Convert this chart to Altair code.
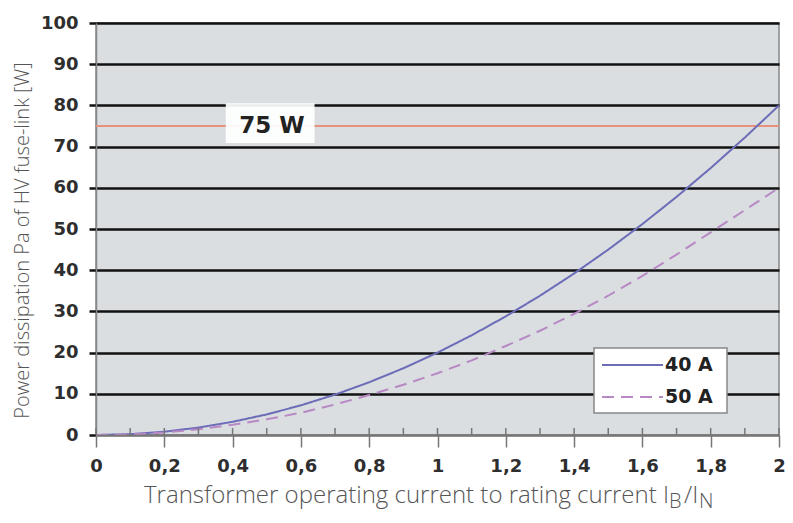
import altair as alt
import pandas as pd

# ---- data ----
x_vals = [0.0, 0.1, 0.2, 0.3, 0.4, 0.5, 0.6, 0.7, 0.8, 0.9, 1.0,
          1.1, 1.2, 1.3, 1.4, 1.5, 1.6, 1.7, 1.8, 1.9, 2.0]
p_40a = [0, 0.2, 0.8, 1.8, 3.2, 5.0, 7.2, 9.8, 12.8, 16.2, 20.0,
         24.2, 28.8, 33.8, 39.2, 45.0, 51.2, 57.8, 64.8, 72.2, 80.0]
p_50a = [0, 0.15, 0.6, 1.4, 2.5, 3.8, 5.4, 7.4, 9.7, 12.2, 15.0,
         18.1, 21.6, 25.3, 29.4, 33.8, 38.6, 43.8, 49.2, 54.6, 60.0]
series_names = ["40 A", "50 A"]
series_colors = ["#6c6cb8", "#b888c4"]
limit_value = 75
limit_label = "75 W"
y_ticks = [0, 10, 20, 30, 40, 50, 60, 70, 80, 90, 100]

PLOT_W, PLOT_H = 683, 412
PAD_L, PAD_T, PAD_R, PAD_B = 88, 15, 6, 78

rows = []
for x, a, b in zip(x_vals, p_40a, p_50a):
    rows.append({"x": x, "p": a, "s": series_names[0]})
    rows.append({"x": x, "p": b, "s": series_names[1]})
df = pd.DataFrame(rows)
df_ticks = pd.DataFrame({"x": x_vals})

xscale = alt.Scale(domain=[0, 2], nice=False, zero=False)
yscale = alt.Scale(domain=[0, 100], nice=False)

label_font = "DejaVu Sans"
title_font = "Open Sans"

xaxis = alt.Axis(
    values=x_vals,
    labelExpr="round(datum.value*10) % 2 == 0 ? replace(format(datum.value, '~g'), '.', ',') : ''",
    labelFont=label_font, labelFontSize=18, labelFontWeight="bold", labelColor="#2e2e2e",
    labelPadding=10, labelFlush=False, labelOverlap=False,
    tickSize=12, tickColor="#777777", tickWidth=1.5,
    domainColor="#777777", domainWidth=1.5,
    grid=False, title=None, zindex=1,
)
yaxis = alt.Axis(
    values=y_ticks,
    labelFont=label_font, labelFontSize=18, labelFontWeight="bold", labelColor="#2e2e2e",
    labelPadding=11, tickSize=7, tickColor="#111111", tickWidth=2.5,
    domainColor="#888888", domainWidth=1.5,
    grid=True, gridColor={"condition": {"test": "datum.value === 0", "value": "#777777"}, "value": "#111111"},
    gridWidth=2.5,
    title="Power dissipation Pa of HV fuse-link [W]",
    titleFont=title_font, titleFontWeight=300, titleFontSize=20, titleColor="#555555",
    titleAngle=-90, titleX=-68, titleY=217, titleAlign="center", titleBaseline="alphabetic",
)

base_axes = alt.Chart(pd.DataFrame({"x": [0], "p": [0]})).mark_point(opacity=0).encode(
    x=alt.X("x:Q", scale=xscale, axis=xaxis),
    y=alt.Y("p:Q", scale=yscale, axis=yaxis),
)

limit = alt.Chart(pd.DataFrame({"p": [limit_value]})).mark_rule(
    color="#e8907c", strokeWidth=2
).encode(y=alt.Y("p:Q", scale=yscale))

label_box = alt.Chart(pd.DataFrame({"x": [0.38], "x2": [0.64], "p": [70.9], "p2": [80.5]})).mark_rect(
    color="white", opacity=0.92
).encode(x=alt.X("x:Q", scale=xscale), x2="x2:Q", y=alt.Y("p:Q", scale=yscale), y2="p2:Q")

label_text = alt.Chart(pd.DataFrame({"x": [0.515], "p": [limit_value], "t": [limit_label]})).mark_text(
    font=label_font, fontSize=23, fontWeight="bold", color="#222222", baseline="middle", align="center"
).encode(x=alt.X("x:Q", scale=xscale), y=alt.Y("p:Q", scale=yscale), text="t:N")

up_ticks = alt.Chart(df_ticks).mark_rule(color="#777777", strokeWidth=1.5).encode(
    x=alt.X("x:Q", scale=xscale), y=alt.value(PLOT_H), y2=alt.value(PLOT_H - 7)
)

lines = alt.Chart(df).mark_line(strokeWidth=2).encode(
    x=alt.X("x:Q", scale=xscale),
    y=alt.Y("p:Q", scale=yscale),
    color=alt.Color("s:N", scale=alt.Scale(domain=series_names, range=series_colors), legend=None),
    strokeDash=alt.StrokeDash("s:N", scale=alt.Scale(domain=series_names, range=[[1, 0], [12, 7]]), legend=None),
)

# ---- manual legend (placed inside the plot, lower right) ----
LX0, LX1 = 498, 631
LY0, LY1 = 325, 390
leg_df = pd.DataFrame({"s": series_names, "yy": [342, 374]})
legend_box = alt.Chart(pd.DataFrame({"a": [0]})).mark_rect(
    fill="white", stroke="#888888", strokeWidth=1.5
).encode(x=alt.value(LX0), x2=alt.value(LX1), y=alt.value(LY0), y2=alt.value(LY1))

legend_lines = alt.Chart(leg_df).mark_rule(strokeWidth=2).encode(
    x=alt.value(LX0 + 8), x2=alt.value(LX0 + 69), y=alt.Y("yy:Q", scale=None),
    color=alt.Color("s:N", scale=alt.Scale(domain=series_names, range=series_colors), legend=None),
    strokeDash=alt.StrokeDash("s:N", scale=alt.Scale(domain=series_names, range=[[1, 0], [12, 7]]), legend=None),
)
legend_text = alt.Chart(leg_df).mark_text(
    font=label_font, fontSize=19, fontWeight="bold", color="#222222", align="left", baseline="middle"
).encode(x=alt.value(LX0 + 71), y=alt.Y("yy:Q", scale=None), text="s:N")

# ---- x title with subscripts ----
def txt(t, xv, yv, size, align="left"):
    return alt.Chart(pd.DataFrame({"t": [t]})).mark_text(
        font=title_font, fontWeight=300, fontSize=size, color="#555555",
        align=align, baseline="alphabetic"
    ).encode(x=alt.value(xv), y=alt.value(yv), text="t:N")

xt_main = txt("Transformer operating current to rating current I", 573, 480, 24, "right")
xt_b = txt("B", 573, 485, 20)
xt_slash = txt("/I", 588, 480, 24)
xt_n = txt("N", 603, 485, 20)

chart = alt.layer(
    base_axes, limit, label_box, label_text, lines, up_ticks,
    legend_box, legend_lines, legend_text,
    xt_main, xt_b, xt_slash, xt_n,
).properties(
    width=PLOT_W, height=PLOT_H,
    autosize=alt.AutoSizeParams(type="none"),
    padding={"left": PAD_L, "top": PAD_T, "right": PAD_R, "bottom": PAD_B},
    background="white",
).configure_view(
    fill="#dadee1", stroke="#888888", strokeWidth=1.5
)

chart.save("out.html", embed_options={"renderer": "svg", "actions": False})
